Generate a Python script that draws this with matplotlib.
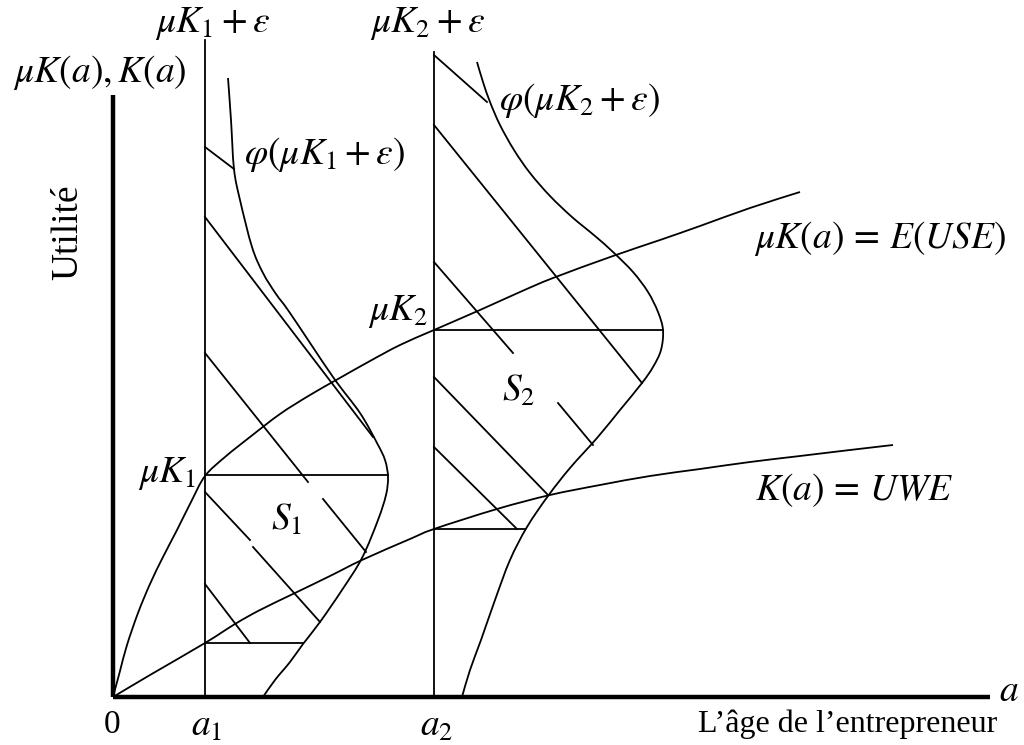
import matplotlib
matplotlib.use("Agg")
import matplotlib.pyplot as plt
from matplotlib.path import Path
from matplotlib.patches import PathPatch

plt.rcParams["mathtext.fontset"] = "stix"
plt.rcParams["font.family"] = ["Liberation Serif", "DejaVu Serif"]

# picture coordinates (x to the right, y downwards)
AX_X0, AX_Y0 = 113, 697
X_AXIS_END = 990
Y_AXIS_TOP = 95
A1, A1_TOP = 205, 40
A2, A2_TOP = 434, 52

muk_x = [113, 120, 127, 138, 150, 163, 177, 191, 205, 225, 250, 280, 310, 338,
         370, 400, 434, 480, 520, 553, 613, 660, 700, 750, 800]
muk_y = [697, 671, 645, 613, 584, 557, 530, 502, 476, 457, 437, 414, 395, 379,
         361, 345, 330, 310, 292, 278, 256, 240, 226, 208, 192]

k_x = [113, 150, 205, 235, 260, 295, 330, 362, 410, 434, 497, 550, 600, 650,
       700, 750, 800, 850, 893]
k_y = [697, 675, 643, 624, 610, 593, 576, 560, 539, 529, 509, 495, 485, 476,
       469, 462, 456, 450, 445]

bell1_x = [228, 231, 234, 240, 252, 263, 276, 290, 333, 360, 377, 385, 388,
           386, 378, 362, 342, 320, 303, 290, 275, 263]
bell1_y = [78, 120, 169, 200, 247, 273, 294, 313, 377, 413, 443, 460, 477,
           495, 520, 558, 590, 622, 644, 662, 680, 697]

bell2_x = [477, 483, 490, 500, 514, 530, 550, 572, 595, 613, 633, 648, 658, 663,
           661, 653, 642, 620, 597, 570, 548, 527, 510, 495, 481, 470, 462]
bell2_y = [62, 82, 102, 125, 150, 173, 196, 217, 236, 252, 272, 292, 312, 330,
           350, 367, 383, 410, 438, 468, 496, 527, 560, 600, 640, 670, 697]

# horizontal markers (y, x_start, x_end)
levels = [(475, 205, 388), (643, 205, 303), (330, 434, 663), (529, 434, 525)]

# hatch segments (x0, y0, x1, y1)
hatch = [
    (205, 147, 234, 169), (205, 217, 373, 437),
    (205, 353, 308, 482), (323, 499, 366, 552),
    (205, 492, 250, 540), (253, 547, 320, 622),
    (205, 584, 250, 643),
    (434, 55, 487, 102), (434, 125, 642, 383),
    (434, 262, 513, 353), (558, 403, 593, 445),
    (434, 377, 548, 495), (434, 447, 517, 529),
]

labels = [
    (r"$\mu K(a), K(a)$", 100, 73),
    (r"$\mu K_1 + \varepsilon$", 213, 24),
    (r"$\mu K_2 + \varepsilon$", 428, 24),
    (r"$\varphi(\mu K_2 + \varepsilon)$", 580, 100),
    (r"$\varphi(\mu K_1 + \varepsilon)$", 325, 155),
    (r"$\mu K(a)\,=\,E(USE)$", 880, 239),
    (r"$\mu K_2$", 398, 312),
    (r"$S_2$", 519, 391),
    (r"$\mu K_1$", 167, 473),
    (r"$S_1$", 287, 520),
    (r"$K(a)\,=\,UWE$", 854, 490),
    (r"$a$", 1009, 692),
    (r"$a_1$", 207, 727),
    (r"$a_2$", 437, 727),
]


def smooth(xs, ys):
    # Catmull-Rom through the read points, drawn as cubic Bezier pieces
    pts = list(zip(xs, ys))
    verts = [pts[0]]
    codes = [Path.MOVETO]
    for i in range(len(pts) - 1):
        p0 = pts[i - 1] if i > 0 else pts[i]
        p1, p2 = pts[i], pts[i + 1]
        p3 = pts[i + 2] if i + 2 < len(pts) else pts[i + 1]
        c1 = (p1[0] + (p2[0] - p0[0]) / 6, p1[1] + (p2[1] - p0[1]) / 6)
        c2 = (p2[0] - (p3[0] - p1[0]) / 6, p2[1] - (p3[1] - p1[1]) / 6)
        verts += [c1, c2, p2]
        codes += [Path.CURVE4] * 3
    return Path(verts, codes)


fig = plt.figure(figsize=(10.24, 7.45), dpi=100)
ax = fig.add_axes([0, 0, 1, 1])
ax.set_xlim(0, 1024)
ax.set_ylim(745, 0)
ax.axis("off")

lw = 1.3
ax.plot([AX_X0, AX_X0], [Y_AXIS_TOP, AX_Y0], color="black", lw=3.2, solid_capstyle="butt")
ax.plot([AX_X0, X_AXIS_END], [AX_Y0, AX_Y0], color="black", lw=3.2, solid_capstyle="butt")
ax.plot([A1, A1], [A1_TOP, AX_Y0], color="black", lw=lw)
ax.plot([A2, A2], [A2_TOP, AX_Y0], color="black", lw=lw)

for xs, ys in [(muk_x, muk_y), (k_x, k_y), (bell1_x, bell1_y), (bell2_x, bell2_y)]:
    ax.add_patch(PathPatch(smooth(xs, ys), facecolor="none", edgecolor="black", lw=lw))

for y, x0, x1 in levels:
    ax.plot([x0, x1], [y, y], color="black", lw=lw)

for x0, y0, x1, y1 in hatch:
    ax.plot([x0, x1], [y0, y1], color="black", lw=lw)

for txt, x, y in labels:
    ax.text(x, y, txt, fontsize=27, ha="center", va="center")

ax.text(112, 725, "0", fontsize=24, ha="center", va="center")
ax.text(848, 724, "L\u2019âge de l\u2019entrepreneur", fontsize=23, ha="center", va="center")
ax.text(68, 232, "Utilité", fontsize=27, ha="center", va="center", rotation=90)

fig.savefig("out.png", dpi=100)
